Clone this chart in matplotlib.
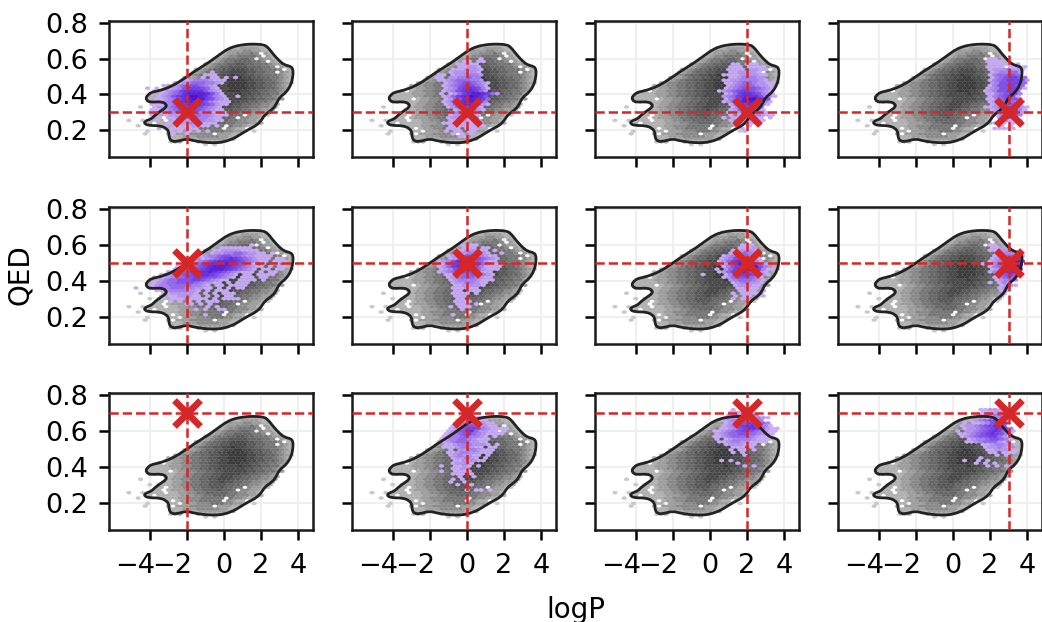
import numpy as np
import matplotlib
matplotlib.use("Agg")
import matplotlib.pyplot as plt
from matplotlib.path import Path
from matplotlib.patches import PathPatch
from matplotlib.colors import LinearSegmentedColormap
from matplotlib.transforms import ScaledTranslation

target_logp = [-2, 0, 2, 3]
target_qed = [0.3, 0.5, 0.7]
x_ticks = [-4, -2, 0, 2, 4]
y_ticks = [0.2, 0.4, 0.6, 0.8]

contour_logp = [-4.23,-4.10,-3.92,-3.56,-3.20,-2.84,-2.39,-2.00,-1.49,-0.95,-0.50,0.04,0.49,1.03,1.56,2.14,2.37,2.64,3.00,3.27,3.58,3.72,3.72,3.63,3.36,3.00,2.82,2.64,2.19,2.01,1.74,1.21,0.85,0.49,-0.05,-0.59,-1.13,-1.67,-2.03,-2.48,-2.84,-2.97,-2.97,-3.11,-3.47,-4.01,-4.28,-4.28,-3.92,-3.74,-3.38,-3.11,-3.11,-3.38,-3.83,-4.10]
contour_qed = [0.379,0.398,0.412,0.420,0.431,0.446,0.472,0.500,0.536,0.571,0.603,0.645,0.668,0.679,0.683,0.679,0.664,0.627,0.586,0.565,0.558,0.543,0.506,0.459,0.412,0.385,0.347,0.319,0.286,0.254,0.226,0.198,0.174,0.152,0.133,0.129,0.133,0.142,0.152,0.138,0.137,0.161,0.189,0.211,0.226,0.226,0.235,0.250,0.263,0.282,0.310,0.329,0.347,0.360,0.357,0.360]

# hex cells: (half-row, first column, density levels 1-9, '.' = empty)
gray_cells = [
 (0,18,"1.1"),(1,10,"122...222222"),(2,11,"222.2233333322"),(3,10,"222333444443322"),
 (4,5,"1"),(4,10,"2.33344444.33322"),(5,5,"1"),(5,10,"22.33344455544332"),(5,28,"1"),
 (6,10,"2.2334455555.4322"),(7,3,"1"),(7,8,"22223344455555.544322"),
 (8,6,"2.22222333445566655444332"),(9,1,"1..1"),(9,6,"222.22334455666665544332"),
 (10,7,"22.233344556667665.44332"),(11,7,"22.2334455667776655.4332"),(11,31,"1"),
 (12,6,"1"),(12,8,"2223344556677776665544332"),(13,9,"223344556677877665544332"),
 (14,4,"1"),(14,10,"233445566778887766554433"),(15,9,"2233445566778887766554432"),
 (16,6,"2222223344556677888877665543"),(17,5,"22222.233445566778888877665543"),
 (18,6,"22222334455667788888877665543"),(19,6,"22223334455667788889887766553"),
 (20,8,"2.23344556677889998877665543"),(21,9,"223344556677889999887766543"),
 (22,10,"233445566778899998877665432"),(23,11,"23445566778899998877665432"),
 (24,13,"234566778899998877665432"),(25,13,"233456677889988776655432"),
 (26,15,"3456677889887766555432"),(27,15,"234566778888776655.432"),
 (28,16,"2345667788877665554.2"),(29,17,"2345667777666554.32"),
 (30,18,"23455667766555433"),(31,19,"234556666554.32"),(32,20,"234555665.4332"),
 (33,21,"234455554.32"),(34,22,"23344454.32"),(35,22,"2333443322"),
 (36,24,"22333322"),(37,26,"2222"),
]

cells_r0_c0 = [(4,11,"1..1"),(5,10,"1.1.1.1.1"),(6,8,"1..111211"),(7,9,"1.11112211.1"),(8,10,"11222322111"),
 (9,7,"1...11223332211"),(10,8,"1.112233433211"),(11,6,"1..12223344332111"),(12,7,"1122344554322111"),
 (13,6,"1122345566543211"),(14,7,"122345667654321"),(15,6,"11123456778654211"),(16,7,"11234578887532111"),
 (17,7,"1123467899865321"),(18,8,"123567899875321..1"),(19,6,"1.12345788887531"),(20,7,"1.1234677775321"),
 (21,5,"1.1..12356665421"),(22,9,"1.1245554321"),(23,11,"11234443321"),(24,13,"1123332111"),
 (25,17,"1.11.1.1"),(26,18,"111"),(27,19,"1")]
cells_r0_c1 = [(3,20,"11"),(4,19,"1.1.1"),(5,17,"1.11.11"),(6,18,"111.111"),(7,18,"11111111"),(8,17,"1111111.1"),
 (9,18,"1122111"),(10,18,"122222"),(11,18,"1223321"),(12,18,"1233211"),(13,19,"1234421"),(14,18,"12455421"),
 (15,17,"1246776421"),(16,17,"1246788753"),(17,17,"1245788764"),(18,17,"1246789875"),(19,16,"1.12467887642"),
 (20,17,"1235677642"),(21,17,"1235676531"),(22,17,"1234565431"),(23,17,"1234554321"),(24,16,"1123444332"),
 (25,15,"11.2233433"),(26,16,"11.1222332"),(27,18,"1222221"),(28,19,"1112221"),(29,20,"11221"),(30,20,"11111"),
 (31,21,"11.11"),(32,25,"1")]
cells_r0_c2 = [(5,29,"1"),(6,29,"1"),(7,28,"1.1"),(8,27,"111111"),(9,26,"1.112211"),(10,25,"1.1122221.1"),(11,26,"1.12333211"),
 (12,26,"112344211"),(13,26,"12456321"),(14,27,"1345654"),(15,26,"134677531"),(16,25,"12468987531"),(17,25,"1346899875"),
 (18,25,"234678775321"),(19,25,"12467765321"),(20,24,"123456654321"),(21,25,"12345554321"),(22,26,"1234443221"),
 (23,25,"11234432211"),(24,25,"1122333321"),(25,26,"11233322"),(26,25,"1111222211"),(27,26,"1122221"),(28,26,"1111.2211"),
 (29,26,"111.1111"),(30,27,"11.111")]
cells_r0_c3 = [(6,31,"11111"),(7,32,"1.1"),(8,31,"1.1.1"),(9,32,"131.1"),(10,32,"2453"),(11,31,"135653"),(12,31,"24676421"),
 (13,30,"12467731"),(14,29,"1123566421"),(15,30,"1235553"),(16,30,"12345431"),(17,29,"11345552"),(18,30,"1345651"),
 (19,29,"11345653"),(20,29,"12355664"),(21,29,"123556641"),(22,30,"13556654"),(23,30,"23556654"),(24,30,"134566652"),
 (25,30,"13456654"),(26,30,"1344554"),(27,30,"1233442"),(28,30,"12223221"),(29,29,"1111.1111"),(30,30,"11111.1"),
 (31,29,"1111"),(32,30,"11")]
cells_r1_c0 = [(6,18,"1"),(8,16,"1.1..1"),(8,22,"1"),(9,18,"1.1"),(10,14,"11.1.1"),(11,10,"1.1.1.1.111"),(12,9,"1.111.1111.1.1111"),
 (13,8,"1.1122211.1.1.11"),(14,9,"11222221.1.1.111"),(15,7,"1123333221.1.111"),(16,3,"1...1233444332211.1.1.11"),
 (17,6,"1233444443321.11.1111"),(18,7,"123445555432211.1.111"),(19,7,"1234455566543211..1111.1"),
 (20,7,"1.1234455666554321.111.11"),(21,8,"12234556677654321.11.1111"),(22,10,"1234566778765432111.1.11"),
 (23,11,"123455678887654321.11.11"),(24,12,"1.23456788876543211.1.11"),(25,13,"1234567788765421.1.11.1"),
 (26,15,"12345677776543211.111"),(27,17,"123456765432111.11"),(28,17,"1233455443221111"),(29,19,"122334432211.1"),
 (30,20,"1122221111"),(31,21,"1111111"),(32,28,"1")]
cells_r1_c1 = [(6,19,"1"),(8,21,"1"),(9,18,"1.111"),(10,20,"111.1"),(11,19,"1111"),(12,20,"11"),(13,19,"111"),(14,19,"1111.1"),
 (15,19,"11.111"),(16,19,"111211"),(17,19,"1122221"),(18,19,"12233211"),(19,18,"1233332111"),(20,18,"1234443211"),
 (21,17,"11234454321"),(22,16,"123456553211"),(23,16,"1235677642111"),(24,16,"12467887531111"),(25,16,"12467998642111"),
 (26,16,"1235788654211"),(27,18,"12356654321"),(28,18,"12345543211"),(29,19,"12233221..1"),(30,20,"1122211.1"),
 (31,21,"111.11"),(32,21,"1111")]
cells_r1_c2 = [(11,30,"1"),(12,27,"1.11"),(13,27,"1.11.11"),(14,27,"1.1111"),(15,28,"1111.1"),(16,28,"11211"),(17,27,"122211"),
 (18,27,"1233221"),(19,26,"23444321"),(20,25,"124555431"),(21,20,"1"),(21,25,"1356665421"),(22,24,"12467875321"),
 (23,23,"1"),(23,25,"24678986311"),(24,25,"1356899853"),(25,24,"12468987421"),(26,24,"1246788531"),(27,24,"123566421"),
 (28,25,"12345421"),(29,26,"1234321"),(30,27,"112221"),(31,28,"1112"),(32,29,"111")]
cells_r1_c3 = [(12,31,"11"),(13,32,"1"),(14,33,"1"),(15,32,"11"),(16,32,"121"),(17,32,"1221"),(18,30,"1.132"),(19,31,"12343"),
 (20,31,"13454"),(21,31,"24565"),(22,30,"134677"),(23,30,"1245798"),(24,30,"1346899"),(25,28,"1"),(25,30,"1345789"),
 (26,30,"12356786"),(27,30,"1234566"),(28,31,"1234431"),(29,31,"12332"),(30,30,"1122"),(31,30,"112"),(32,30,"11")]
cells_r2_c0 = []
cells_r2_c1 = [(10,22,"1.11.1"),(12,20,"1..1"),(13,18,"1..1"),(14,19,"1.1"),(15,20,"1..1"),(16,19,"111.1"),(17,16,"1..1111"),
 (18,19,"1121"),(19,16,"1..1121.1"),(20,19,"12221"),(21,19,"1122211"),(22,19,"122321.1"),(23,18,"1232211.1"),
 (24,18,"1123322111"),(25,18,"1.22332111"),(26,17,"111233211.11"),(27,17,"1123332221.1"),(28,17,"1234442211"),
 (29,16,"12334432111"),(30,17,"1233453321.1"),(31,17,"1234564321111"),(32,18,"12456742211.1"),(33,18,"1235665321111"),
 (34,19,"1235542211"),(35,19,"123443211"),(36,20,"1123211"),(37,22,"1111")]
cells_r2_c2 = [(19,29,"1.1"),(20,28,"1"),(21,24,"1.1"),(23,29,"1"),(24,27,"1.1"),(25,26,"1.11.1"),(26,27,"111.1"),(27,25,"1222111"),
 (28,24,"11233221111"),(29,23,"1.1233332111"),(30,23,"112344443211"),(31,23,"1234455443211"),(32,23,"11234566543211"),
 (33,24,"1123567764211"),(34,25,"12346775431"),(35,25,"1234566543"),(36,25,"123445543"),(37,25,"1123443321"),
 (38,26,"1122333"),(39,26,"11122"),(40,27,"1.11")]
cells_r2_c3 = [(19,29,"1.1.1"),(20,27,"1.1.1"),(21,24,"1..1.1"),(22,28,"1"),(23,31,"1.1"),(24,30,"11.111"),(25,29,"1122211"),
 (26,29,"122321"),(27,28,"11233221"),(28,25,"112344421"),(29,25,"1233455431"),(30,24,"12345566421"),(31,23,"112345676531"),
 (32,23,"1.22345676421"),(33,24,"12234567653"),(34,24,"1223456765"),(35,24,"1.11235676"),(36,26,"1234566"),(37,29,"12345"),
 (38,28,"122343"),(39,28,"11122"),(40,28,"11221")]
purple_cells = [[cells_r0_c0,cells_r0_c1,cells_r0_c2,cells_r0_c3],
                [cells_r1_c0,cells_r1_c1,cells_r1_c2,cells_r1_c3],
                [cells_r2_c0,cells_r2_c1,cells_r2_c2,cells_r2_c3]]

EXT = (-5.5, 4.0, 0.12, 0.75)
GRID = (38, 21)
DX, DY = 0.25, 0.03

def unpack(cells):
    xs, ys, cs = [], [], []
    for k, start, s in cells:
        for n, ch in enumerate(s):
            if ch == '.':
                continue
            xs.append(EXT[0] + DX * (start + n + (0.5 if k % 2 else 0.0)))
            ys.append(EXT[2] + DY / 2 * k)
            cs.append(int(ch))
    return xs, ys, cs

gray_cmap = LinearSegmentedColormap.from_list(
    "g", [(0, "#c8c8c8"), (0.125, "#b0b0b0"), (0.5, "#747474"), (0.75, "#565656"), (1, "#393939")])
purple_cmap = LinearSegmentedColormap.from_list(
    "p", [(0, "#c8abf6"), (0.25, "#a680f2"), (0.5, "#8250ea"), (1, "#4a0fd9")])

def hexes(ax, cells, cmap, z):
    x, y, c = unpack(cells)
    ax.hexbin(x, y, C=c, reduce_C_function=np.max, gridsize=GRID, extent=EXT, cmap=cmap,
              vmin=1, vmax=9, linewidths=0.15, edgecolors='face', zorder=z)

def contour_path():
    p = np.column_stack([contour_logp, contour_qed])
    n = len(p)
    mid = (p + np.roll(p, -1, axis=0)) / 2
    verts = [mid[-1]]
    codes = [Path.MOVETO]
    for i in range(n):
        verts += [p[i], mid[i]]
        codes += [Path.CURVE3, Path.CURVE3]
    return Path(verts, codes)

W, H = 1042, 622
fig = plt.figure(figsize=(W / 100, H / 100), dpi=100)
lefts = [109, 352, 595, 838]
tops = [20.7, 207, 393]
aw, ah = 203.5, 136.5
FS = 19.5
shift = ScaledTranslation(-0.15, 0, fig.dpi_scale_trans)
for r, q in enumerate(target_qed):
    for c, lp in enumerate(target_logp):
        ax = fig.add_axes([lefts[c] / W, 1 - (tops[r] + ah) / H, aw / W, ah / H])
        ax.set_xlim(-6.2, 4.77)
        ax.set_ylim(0.049, 0.813)
        ax.set_xticks(x_ticks)
        ax.set_yticks(y_ticks)
        ax.grid(True, color='#efefef', lw=1.5, zorder=0)
        ax.set_axisbelow(True)
        hexes(ax, gray_cells, gray_cmap, 2)
        if purple_cells[r][c]:
            hexes(ax, purple_cells[r][c], purple_cmap, 3)
        ax.add_patch(PathPatch(contour_path(), fill=False, ec='#222222', lw=2.0, zorder=4))
        ax.axvline(lp, color='#d62728', ls='--', lw=1.8, zorder=5)
        ax.axhline(q, color='#d62728', ls='--', lw=1.8, zorder=5)
        ax.plot([lp], [q], marker='x', color='#d62728', ms=19, mew=4.8, ls='none', zorder=6, clip_on=False)
        for s in ax.spines.values():
            s.set_linewidth(1.8)
            s.set_color('#1a1a1a')
        ax.tick_params(axis='both', length=7, width=1.8, labelsize=FS)
        ax.tick_params(axis='x', pad=10, labelbottom=(r == 2))
        ax.tick_params(axis='y', pad=8, labelleft=(c == 0))
        for tv, lab in zip(x_ticks, ax.get_xticklabels()):
            if tv < 0:
                lab.set_transform(lab.get_transform() + shift)
fig.text(576 / W, 1 - 610 / H, "logP", ha='center', va='center', fontsize=20)
fig.text(20 / W, 1 - 275 / H, "QED", ha='center', va='center', rotation=90, fontsize=20)
fig.savefig("out.png", dpi=100)
